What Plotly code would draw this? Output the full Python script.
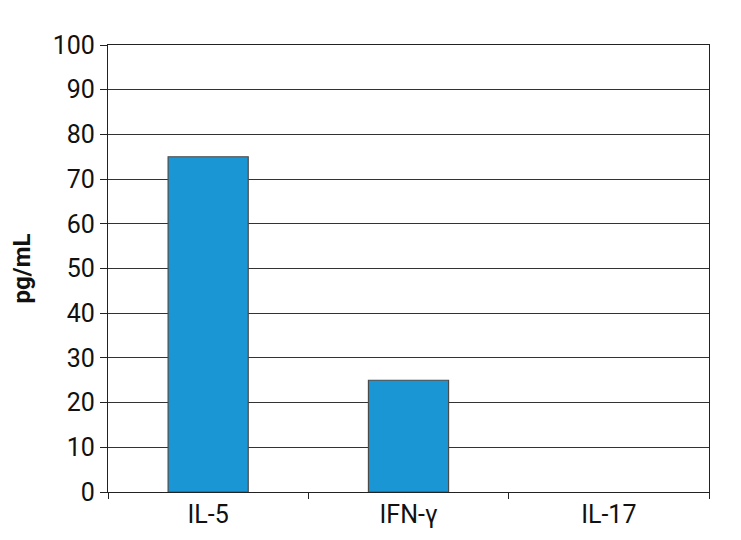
import plotly.graph_objects as go

cytokines = ["IL-5", "IFN-γ", "IL-17"]
concentration = [75, 25, 0]
y_ticks = list(range(0, 101, 10))

FONT = "Liberation Sans Narrow, Roboto, sans-serif"

fig = go.Figure()
fig.add_trace(
    go.Bar(
        x=cytokines,
        y=concentration,
        width=0.4,
        marker={"color": "#1A96D5", "line": {"color": "#4A4A4A", "width": [1.2, 1.2, 0]}},
        showlegend=False,
    )
)

# page is offset by the browser's body margin, so margins are trimmed to land the plot area
fig.update_layout(
    width=741,
    height=540,
    plot_bgcolor="white",
    paper_bgcolor="white",
    margin={"l": 100, "r": 40, "t": 37, "b": 56},
    font={"family": FONT, "color": "#111111", "size": 25},
)
fig.update_xaxes(
    tickson="boundaries",
    ticks="outside",
    ticklen=6,
    tickcolor="#222222",
    showline=True,
    linecolor="#222222",
    linewidth=1.2,
    mirror=True,
    showgrid=False,
    automargin=False,
    tickfont={"size": 25},
)
fig.update_yaxes(
    range=[0, 100],
    tickmode="array",
    tickvals=y_ticks,
    ticks="outside",
    ticklen=7,
    tickcolor="#222222",
    showline=True,
    linecolor="#222222",
    linewidth=1.2,
    mirror=True,
    showgrid=True,
    gridcolor="#333333",
    gridwidth=1.2,
    zeroline=False,
    automargin=False,
    tickfont={"size": 25},
    title={"text": "<b>pg/mL</b>", "font": {"size": 24}, "standoff": 18},
)

fig.write_html("out.html")
